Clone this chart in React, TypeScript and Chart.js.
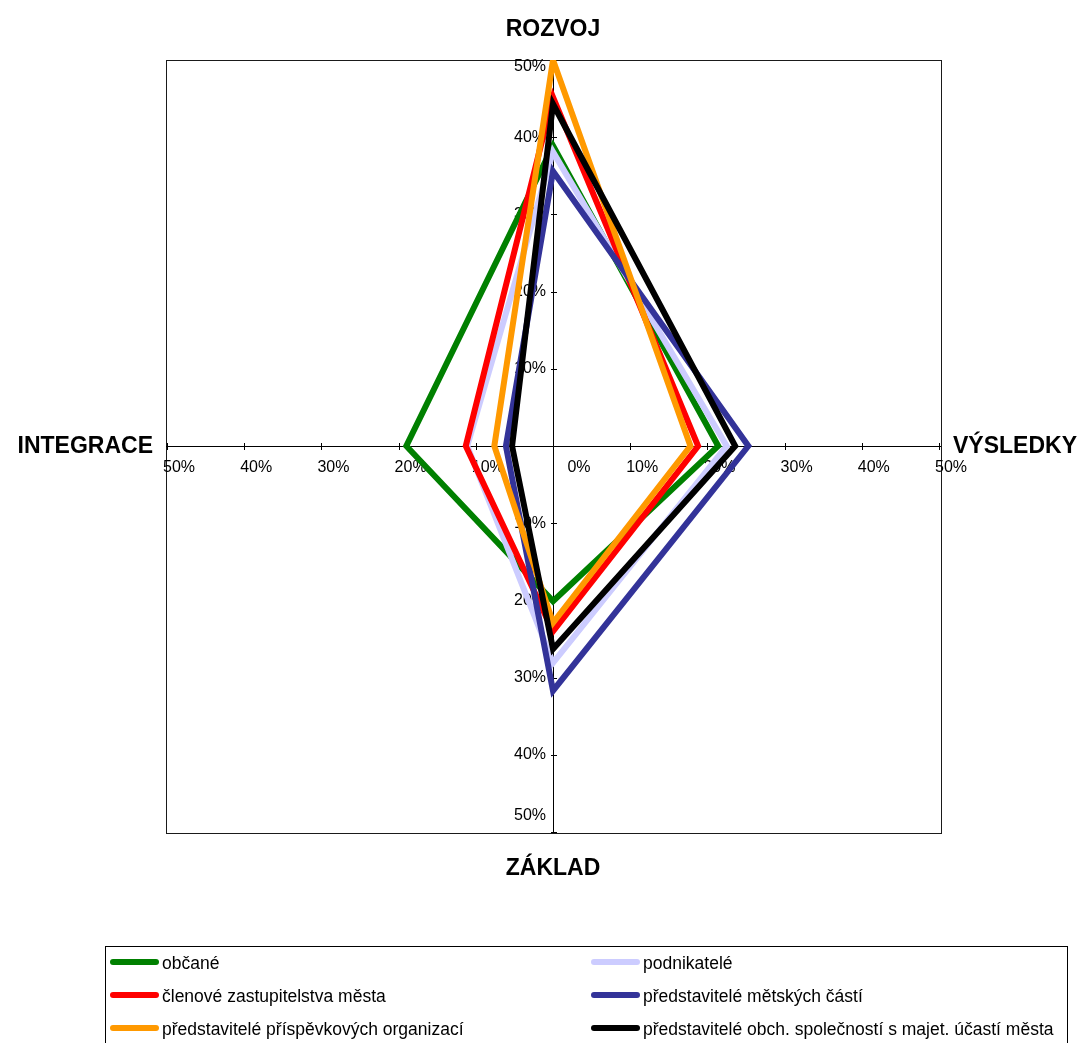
import React, { useEffect, useRef } from "react";
import { Chart, registerables } from "chart.js";

Chart.register(...registerables);

// Radar axes, clockwise from the top
const AXES = ["ROZVOJ", "VÝSLEDKY", "ZÁKLAD", "INTEGRACE"];

// Share (%) per axis: ROZVOJ, VÝSLEDKY, ZÁKLAD, INTEGRACE
const OBCANE = [38.9, 21.4, 20.1, 19.0];
const PODNIKATELE = [38.1, 22.5, 28.1, 11.1];
const ZASTUPITELE = [45.2, 18.8, 24.0, 11.3];
const MESTSKE_CASTI = [35.6, 25.3, 31.7, 6.1];
const PRISPEVKOVE = [50.0, 17.8, 22.9, 7.6];
const OBCH_SPOLECNOSTI = [44.3, 23.6, 26.3, 5.3];

const SERIES_NAMES = [
  "občané",
  "podnikatelé",
  "členové zastupitelstva města",
  "představitelé mětských částí",
  "představitelé příspěvkových organizací",
  "představitelé obch. společností s majet. účastí města",
];
const SERIES_VALUES = [OBCANE, PODNIKATELE, ZASTUPITELE, MESTSKE_CASTI, PRISPEVKOVE, OBCH_SPOLECNOSTI];
const SERIES_COLORS = ["#008000", "#CCCCFF", "#FF0000", "#333399", "#FF9900", "#000000"];

// Tick steps along each half-axis
const TICK_VALUES = [10, 20, 30, 40, 50];

const FONT = "'Liberation Sans', Arial, sans-serif";

const crossPlugin = {
  id: "crossAxes",
  beforeDatasetsDraw(chart: any) {
    const { ctx, chartArea } = chart;
    const r = chart.scales.r;
    const cx = r.xCenter;
    const cy = r.yCenter;
    const { left, right, top, bottom } = chartArea;
    ctx.save();

    // plot frame
    ctx.strokeStyle = "#1a1a1a";
    ctx.lineWidth = 1;
    ctx.strokeRect(Math.round(left) + 0.5, Math.round(top) + 0.5, Math.round(right - left), Math.round(bottom - top));

    // cross axes
    ctx.strokeStyle = "#000";
    ctx.beginPath();
    ctx.moveTo(left, cy + 0.5);
    ctx.lineTo(right, cy + 0.5);
    ctx.moveTo(cx + 0.5, top);
    ctx.lineTo(cx + 0.5, bottom);
    ctx.stroke();

    ctx.font = `16px ${FONT}`;
    ctx.fillStyle = "#000";
    ctx.textBaseline = "middle";

    // horizontal axis: ticks and labels
    ctx.textAlign = "center";
    const hLabel = (x: number, v: number) => {
      const off = v === 0 ? 26 : 12;
      ctx.fillText(`${v}%`, x + off, cy + 22);
    };
    hLabel(cx, 0);
    for (const v of TICK_VALUES) {
      const d = r.getDistanceFromCenterForValue(v);
      for (const x of [cx - d, cx + d]) {
        ctx.beginPath();
        ctx.moveTo(Math.round(x) + 0.5, cy - 3);
        ctx.lineTo(Math.round(x) + 0.5, cy + 4);
        ctx.stroke();
        hLabel(x, v);
      }
    }

    // vertical axis: ticks and labels
    ctx.textAlign = "right";
    for (const v of TICK_VALUES) {
      const d = r.getDistanceFromCenterForValue(v);
      for (const y of [cy - d, cy + d]) {
        ctx.beginPath();
        ctx.moveTo(cx - 2, Math.round(y) + 0.5);
        ctx.lineTo(cx + 4, Math.round(y) + 0.5);
        ctx.stroke();
        const ly = Math.min(Math.max(y, top + 7), bottom - 17);
        ctx.fillText(`${v}%`, cx - 7, ly);
      }
    }

    // axis names
    ctx.font = `bold 23px ${FONT}`;
    const R = r.drawingArea;
    AXES.forEach((name, i) => {
      const a = (i * Math.PI) / 2;
      let x = cx + Math.sin(a) * R;
      let y = cy - Math.cos(a) * R;
      if (i === 0) y -= 31;
      if (i === 2) y += 36;
      if (i === 1) {
        ctx.textAlign = "left";
        x += 14;
      } else if (i === 3) {
        ctx.textAlign = "right";
        x -= 14;
      } else {
        ctx.textAlign = "center";
      }
      ctx.fillText(name, x, y + 1);
    });
    ctx.restore();
  },
  afterDraw(chart: any) {
    const { ctx } = chart;
    ctx.save();
    // legend box
    ctx.strokeStyle = "#000";
    ctx.lineWidth = 1;
    ctx.strokeRect(105.5, 946.5, 962, 120);
    ctx.font = `17.5px ${FONT}`;
    ctx.textBaseline = "middle";
    ctx.textAlign = "left";
    SERIES_NAMES.forEach((name, i) => {
      const col = i % 2;
      const row = Math.floor(i / 2);
      const x = col === 0 ? 113 : 594;
      const y = 962 + row * 33;
      ctx.strokeStyle = SERIES_COLORS[i];
      ctx.lineWidth = 6;
      ctx.lineCap = "round";
      ctx.beginPath();
      ctx.moveTo(x, y);
      ctx.lineTo(x + 43, y);
      ctx.stroke();
      ctx.fillStyle = "#000";
      ctx.fillText(name, x + 49, y + 2);
    });
    ctx.restore();
  },
};

export default function App() {
  const ref = useRef<HTMLCanvasElement | null>(null);

  useEffect(() => {
    if (!ref.current) return;
    const chart = new Chart(ref.current, {
      type: "radar",
      data: {
        labels: AXES,
        datasets: SERIES_NAMES.map((name, i) => ({
          label: name,
          data: SERIES_VALUES[i],
          borderColor: SERIES_COLORS[i],
          backgroundColor: "transparent",
          borderWidth: 6,
          borderJoinStyle: "miter" as const,
          pointRadius: 0,
          pointHoverRadius: 0,
          fill: false,
          tension: 0,
          clip: 0,
          order: SERIES_NAMES.length - i,
        })),
      },
      options: {
        responsive: false,
        animation: false,
        layout: { padding: { left: 166, right: 144, top: 60, bottom: 210 } },
        plugins: { legend: { display: false }, tooltip: { enabled: false } },
        scales: {
          r: {
            min: 0,
            max: 50,
            startAngle: 0,
            ticks: { display: false },
            grid: { display: false },
            angleLines: { display: false },
            pointLabels: { display: false },
          },
        },
      },
      plugins: [crossPlugin],
    });
    return () => chart.destroy();
  }, []);

  return (
    <div style={{ position: "fixed", left: 0, top: 0, width: 1085, height: 1043, background: "#fff" }}>
      <canvas ref={ref} width={1085} height={1043} />
    </div>
  );
}
